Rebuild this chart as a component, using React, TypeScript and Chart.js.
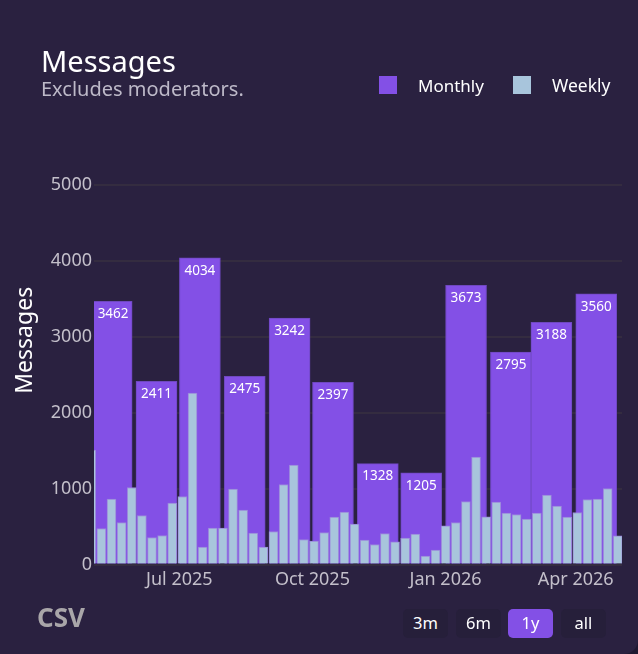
import React, { useEffect, useRef } from 'react';
import { Chart, registerables } from 'chart.js';

Chart.register(...registerables);

const FONT = '"Noto Sans", sans-serif';

const monthStarts = ['2025-05-01', '2025-06-01', '2025-07-01', '2025-08-01', '2025-09-01', '2025-10-01', '2025-11-01', '2025-12-01', '2026-01-01', '2026-02-01', '2026-03-01', '2026-04-01'];
const monthlyValues = [3462, 2411, 4034, 2475, 3242, 2397, 1328, 1205, 3673, 2795, 3188, 3560];

const weekStarts = [
  '2025-04-28', '2025-05-05', '2025-05-12', '2025-05-19', '2025-05-26', '2025-06-02', '2025-06-09', '2025-06-16', '2025-06-23',
  '2025-06-30', '2025-07-07', '2025-07-14', '2025-07-21', '2025-07-28', '2025-08-04', '2025-08-11', '2025-08-18', '2025-08-25',
  '2025-09-01', '2025-09-08', '2025-09-15', '2025-09-22', '2025-09-29', '2025-10-06', '2025-10-13', '2025-10-20', '2025-10-27',
  '2025-11-03', '2025-11-10', '2025-11-17', '2025-11-24', '2025-12-01', '2025-12-08', '2025-12-15', '2025-12-22', '2025-12-29',
  '2026-01-05', '2026-01-12', '2026-01-19', '2026-01-26', '2026-02-02', '2026-02-09', '2026-02-16', '2026-02-23', '2026-03-02',
  '2026-03-09', '2026-03-16', '2026-03-23', '2026-03-30', '2026-04-06', '2026-04-13', '2026-04-20', '2026-04-27',
];
const weeklyValues = [
  1504, 474, 860, 553, 1013, 645, 355, 382, 807,
  895, 2254, 228, 478, 478, 991, 715, 412, 228,
  434, 1053, 1307, 329, 307, 421, 623, 689, 531,
  320, 263, 408, 298, 346, 399, 110, 189, 509,
  553, 829, 1412, 627, 820, 675, 658, 596, 675,
  912, 768, 623, 684, 855, 860, 1000, 377,
];

const xTickDates = ['2025-07-01', '2025-10-01', '2026-01-01', '2026-04-01'];
const xTickLabels = ['Jul 2025', 'Oct 2025', 'Jan 2026', 'Apr 2026'];
const yTicks = [0, 1000, 2000, 3000, 4000, 5000];
const ranges = ['3m', '6m', '1y', 'all'];

const toDay = (d: string) => Date.parse(d) / 86400000;

// bars start at the period date, so shift the centre by half a bar
const MONTH_SHIFT = 14.2;
const WEEK_SHIFT = 3.1;

// value labels sit inside the top of the monthly bars
const monthLabels = {
  id: 'monthLabels',
  afterDatasetsDraw(chart: any) {
    const { ctx, chartArea } = chart;
    const meta = chart.getDatasetMeta(0);
    ctx.save();
    ctx.font = `13.5px ${FONT}`;
    ctx.fillStyle = '#ffffff';
    ctx.textAlign = 'center';
    ctx.textBaseline = 'middle';
    meta.data.forEach((bar: any, i: number) => {
      const left = Math.max(bar.x - bar.width / 2, chartArea.left);
      const right = bar.x + bar.width / 2;
      ctx.fillText(String(monthlyValues[i]), (left + right) / 2, bar.y + 13);
    });
    ctx.restore();
  },
};

const App: React.FC = () => {
  const canvasRef = useRef<HTMLCanvasElement | null>(null);

  useEffect(() => {
    document.body.style.margin = '0';
    document.body.style.background = '#1f1931';
    const chart = new Chart(canvasRef.current!, {
      type: 'bar',
      data: {
        datasets: [
          {
            label: 'Monthly',
            data: monthStarts.map((d, i) => ({ x: toDay(d) + MONTH_SHIFT, y: monthlyValues[i] })),
            backgroundColor: '#8350e6',
            borderColor: '#6f48c0',
            borderWidth: 1,
            barThickness: 41,
            grouped: false,
            order: 2,
          },
          {
            label: 'Weekly',
            data: weekStarts.map((d, i) => ({ x: toDay(d) + WEEK_SHIFT, y: weeklyValues[i] })),
            backgroundColor: '#a8c5dc',
            borderColor: '#9a84dc',
            borderWidth: 1,
            barThickness: 9,
            grouped: false,
            order: 1,
          },
        ],
      } as any,
      options: {
        responsive: false,
        animation: false,
        layout: { autoPadding: false, padding: { top: 116.1, right: 16, left: 0, bottom: 0 } },
        plugins: { legend: { display: false }, title: { display: false }, tooltip: { enabled: false } },
        scales: {
          x: {
            type: 'linear',
            offset: false,
            min: toDay('2025-05-03'),
            max: toDay('2026-05-03'),
            afterBuildTicks: (scale: any) => {
              scale.ticks = xTickDates.map((d) => ({ value: toDay(d) }));
            },
            afterFit: (scale: any) => {
              scale.height = 89.5;
            },
            grid: { display: false },
            border: { display: false },
            ticks: {
              autoSkip: false,
              maxRotation: 0,
              padding: -3,
              color: '#c3bfca',
              font: { family: FONT, size: 18 },
              callback: (_v: any, i: number) => xTickLabels[i],
            },
          },
          y: {
            min: 0,
            max: 5900,
            afterBuildTicks: (scale: any) => {
              scale.ticks = yTicks.map((value) => ({ value }));
            },
            afterFit: (scale: any) => {
              scale.width = 94;
            },
            grid: { color: '#342c40', lineWidth: 2, drawTicks: false },
            border: { display: false },
            ticks: {
              padding: 2,
              color: '#c3bfca',
              font: { family: FONT, size: 18 },
              callback: (v: any) => String(v),
            },
            title: {
              display: true,
              text: 'Messages',
              color: '#ffffff',
              font: { family: FONT, size: 23 },
              padding: { top: 12, bottom: 0 },
            },
          },
        },
      } as any,
      plugins: [monthLabels],
    });
    return () => chart.destroy();
  }, []);

  const at = (left: number, top: number): React.CSSProperties => ({ position: 'absolute', left, top, whiteSpace: 'nowrap', lineHeight: 1 });

  return (
    <div style={{ position: 'relative', width: 638, height: 654, overflow: 'hidden', background: '#2a2140', borderRadius: '0 0 14px 0', fontFamily: FONT }}>
      <canvas ref={canvasRef} width={638} height={654} style={{ position: 'absolute', left: 0, top: 0, display: 'block' }} />
      <div style={{ ...at(41, 46), fontSize: 29, color: '#ffffff' }}>Messages</div>
      <div style={{ ...at(41, 79), fontSize: 20, color: '#bdb9c8' }}>Excludes moderators.</div>

      <div style={{ ...at(379, 76), width: 18, height: 18, background: '#8350e6' }} />
      <div style={{ ...at(418, 77), fontSize: 17, color: '#ffffff' }}>Monthly</div>
      <div style={{ ...at(513, 76), width: 18, height: 18, background: '#a8c5dc' }} />
      <div style={{ ...at(552, 77), fontSize: 17.5, color: '#ffffff' }}>Weekly</div>

      <div style={{ ...at(37, 604), fontSize: 26, fontWeight: 700, color: '#a9a6a9' }}>CSV</div>

      {ranges.map((r, i) => (
        <div
          key={r}
          style={{
            ...at([403, 456, 508, 561][i], 609),
            width: 45,
            height: 29,
            lineHeight: '27px',
            textAlign: 'center',
            fontSize: 16.5,
            color: '#ffffff',
            borderRadius: 5,
            background: r === '1y' ? '#8350e6' : '#261f3a',
          }}
        >
          {r}
        </div>
      ))}
    </div>
  );
};

export default App;
